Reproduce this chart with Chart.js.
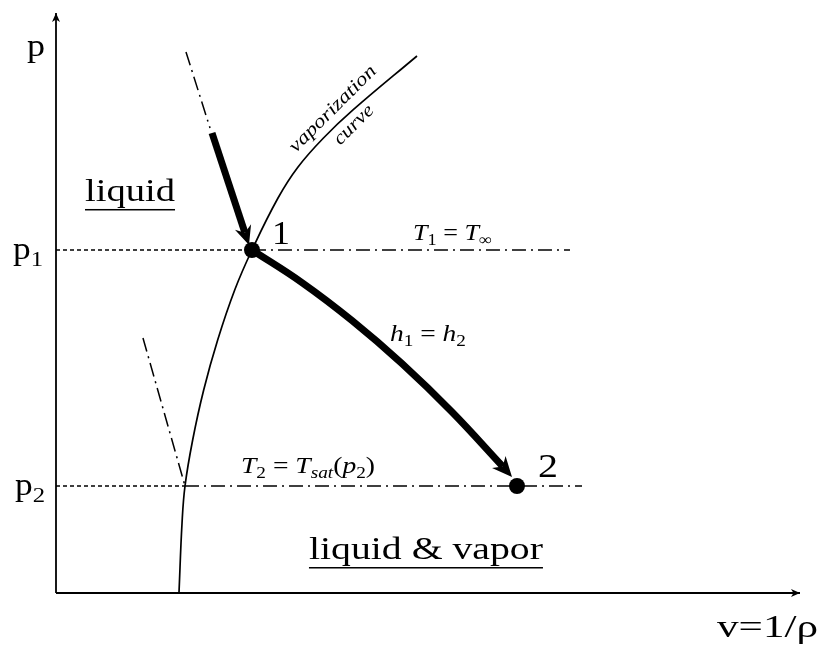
<!DOCTYPE html>
<html>
<head>
<meta charset="utf-8">
<script src="https://cdn.jsdelivr.net/npm/chart.js@4.4.1/dist/chart.umd.min.js"></script>
<style>
  html, body { margin: 0; padding: 0; background: #fff; }
  canvas { display: block; }
</style>
</head>
<body>
<canvas id="pv" width="824" height="646"></canvas>
<script>
// ---- p–v diagram data (arbitrary units: v along x, p along y) ----
const AXIS_MAX = 100;

// state points 1 and 2
const stateNames = ['1', '2'];
const stateV = [26.34, 61.96];
const stateP = [59.14, 18.45];

// vaporization (saturation) curve
const vapV = [16.53, 16.94, 17.34, 18.37, 19.85, 21.73, 24.02, 26.34, 29.84, 32.53, 35.95, 39.92, 48.52];
const vapP = [0.00, 12.07, 18.45, 26.38, 35.00, 43.62, 52.24, 59.14, 68.10, 73.45, 78.45, 83.28, 92.59];

// isenthalpic throttling path 1 -> 2 (h1 = h2), ends at the arrowhead notch
const throttleV = [26.34, 33.06, 39.78, 46.51, 53.23, 60.05];
const throttleP = [59.14, 53.52, 46.98, 39.55, 31.21, 21.81];
const throttleTip = [61.29, 20.00];

// liquid isotherm reaching state 1: dash-dot part, then the thick approach arrow
const isoT1V = [17.47, 20.70];
const isoT1P = [93.28, 80.17];
const approachV = [20.97, 25.39];
const approachP = [79.31, 62.12];
const approachTip = [25.94, 60.00];

// liquid isotherm T2 meeting the saturation curve at p2
const isoT2V = [11.69, 17.34];
const isoT2P = [43.97, stateP[1]];

// isobar extents
const isobar1V = [0, stateV[0], 69.09];
const isobar2V = [0, 17.34, 70.70];

const pts = (xs, ys) => xs.map((x, i) => ({ x, y: ys[i] }));
const flat = (xs, y) => xs.map(x => ({ x, y }));

const INK = '#000';
const DASH = [4, 3];
const DASHDOT = [14, 5, 2, 5];

function lineSet(data, extra) {
  return Object.assign({
    data, showLine: true, borderColor: INK, backgroundColor: INK,
    borderWidth: 1.6, pointRadius: 0, tension: 0, clip: false, fill: false
  }, extra || {});
}

const datasets = [
  // state points (first = drawn on top)
  { data: pts(stateV, stateP), showLine: false, pointRadius: 8, pointHoverRadius: 8,
    pointBackgroundColor: INK, pointBorderColor: INK, pointBorderWidth: 0, clip: false },
  // axes
  lineSet([{ x: 0, y: 0 }, { x: AXIS_MAX, y: 0 }], { borderWidth: 1.8, arrowTip: [AXIS_MAX, 0], arrowSize: [9, 4, 6.5] }),
  lineSet([{ x: 0, y: 0 }, { x: 0, y: AXIS_MAX }], { borderWidth: 1.8, arrowTip: [0, AXIS_MAX], arrowSize: [9, 4, 6.5] }),
  // saturation curve
  lineSet(pts(vapV, vapP), { borderWidth: 1.7, tension: 0.4, borderJoinStyle: 'round' }),
  // isobars p1, p2
  lineSet(flat(isobar1V.slice(0, 2), stateP[0]), { borderWidth: 1.5, borderDash: DASH }),
  lineSet(flat(isobar1V.slice(1), stateP[0]), { borderWidth: 1.5, borderDash: DASHDOT }),
  lineSet(flat(isobar2V.slice(0, 2), stateP[1]), { borderWidth: 1.5, borderDash: DASH }),
  lineSet(flat(isobar2V.slice(1), stateP[1]), { borderWidth: 1.5, borderDash: DASHDOT }),
  // isotherms in the liquid region
  lineSet(pts(isoT1V, isoT1P), { borderWidth: 1.5, borderDash: DASHDOT }),
  lineSet(pts(isoT2V, isoT2P), { borderWidth: 1.5, borderDash: DASHDOT }),
  // thick process arrows
  lineSet(pts(approachV, approachP), { borderWidth: 7, arrowTip: approachTip, arrowSize: [19, 8.5, 13] }),
  lineSet(pts(throttleV, throttleP), { borderWidth: 7, tension: 0.4, borderJoinStyle: 'round', arrowTip: throttleTip, arrowSize: [20, 9, 14] })
];

// ---- text ----
const SERIF = '"Liberation Serif", "Times New Roman", serif';

// runs: [text, style]; style letters: i = italic, s = subscript
const labels = [
  { runs: [['p', '']], x: -1.48, y: 92.59, size: 31, align: 'right', width: 18 },
  { runs: [['p', ''], ['1', 's']], x: -1.75, y: 57.6, size: 31, align: 'right', width: 30 },
  { runs: [['p', ''], ['2', 's']], x: -1.48, y: 16.9, size: 31, align: 'right', width: 30 },
  { runs: [['liquid', '']], x: 3.90, y: 67.59, size: 31, width: 90, underline: 8 },
  { runs: [['liquid & vapor', '']], x: 34.0, y: 5.86, size: 31, width: 234, underline: 8 },
  { runs: [['1', '']], x: 29.03, y: 60.17, size: 33, width: 18 },
  { runs: [['2', '']], x: 64.78, y: 20.0, size: 33, width: 20 },
  { runs: [['v=1/ρ', '']], x: 88.84, y: -7.59, size: 31, width: 101 },
  { runs: [['T', 'i'], ['1', 's'], [' = ', ''], ['T', 'i'], ['∞', 's']], x: 47.98, y: 60.86, size: 23, width: 79 },
  { runs: [['h', 'i'], ['1', 's'], [' = ', ''], ['h', 'i'], ['2', 's']], x: 44.89, y: 43.45, size: 23, width: 76 },
  { runs: [['T', 'i'], ['2', 's'], [' = ', ''], ['T', 'i'], ['sat', 'is'], ['(', ''], ['p', 'i'], ['2', 's'], [')', '']],
    x: 24.87, y: 20.69, size: 23, width: 134 },
  { runs: [['vaporization', 'i']], x: 37.23, y: 83.45, size: 19, width: 115, align: 'center', middle: true, angle: -Math.PI / 4 },
  { runs: [['curve', 'i']], x: 40.05, y: 80.69, size: 19, width: 49, align: 'center', middle: true, angle: -Math.PI / 4 }
];

function drawRuns(ctx, lab, px, py) {
  const pieces = lab.runs.map(([t, st]) => {
    const sub = st.includes('s'), it = st.includes('i');
    const fs = sub ? lab.size * 0.7 : lab.size;
    const font = (it ? 'italic ' : '') + fs.toFixed(1) + 'px ' + SERIF;
    ctx.font = font;
    return { t, font, dy: sub ? lab.size * 0.22 : 0, w: ctx.measureText(t).width };
  });
  const natural = pieces.reduce((a, p) => a + p.w, 0);
  const sx = lab.width ? lab.width / natural : 1;
  ctx.save();
  ctx.translate(px, py);
  if (lab.angle) ctx.rotate(lab.angle);
  ctx.scale(sx, 1);
  let x = lab.align === 'center' ? -natural / 2 : lab.align === 'right' ? -natural : 0;
  const x0 = x;
  ctx.fillStyle = INK;
  ctx.textAlign = 'left';
  ctx.textBaseline = lab.middle ? 'middle' : 'alphabetic';
  for (const p of pieces) {
    ctx.font = p.font;
    ctx.fillText(p.t, x, p.dy);
    x += p.w;
  }
  if (lab.underline) ctx.fillRect(x0, lab.underline, natural, 1.5);
  ctx.restore();
}

const diagramPlugin = {
  id: 'diagram',
  afterDatasetsDraw(chart) {
    const ctx = chart.ctx, xs = chart.scales.x, ys = chart.scales.y;
    chart.data.datasets.forEach((ds, i) => {
      if (!ds.arrowTip) return;
      const meta = chart.getDatasetMeta(i);
      const tx = xs.getPixelForValue(ds.arrowTip[0]);
      const ty = ys.getPixelForValue(ds.arrowTip[1]);
      const k = meta.data.length - 1;
      let b = meta.data[k];
      if (Math.hypot(b.x - tx, b.y - ty) < 0.5) b = meta.data[k - 1];
      let dx = tx - b.x, dy = ty - b.y;
      const len = Math.hypot(dx, dy);
      dx /= len; dy /= len;
      const nx = -dy, ny = dx;
      const [L, W, N] = ds.arrowSize;
      ctx.save();
      ctx.fillStyle = INK;
      ctx.beginPath();
      ctx.moveTo(tx, ty);
      ctx.lineTo(tx - L * dx + W * nx, ty - L * dy + W * ny);
      ctx.lineTo(tx - N * dx, ty - N * dy);
      ctx.lineTo(tx - L * dx - W * nx, ty - L * dy - W * ny);
      ctx.closePath();
      ctx.fill();
      ctx.restore();
    });
  },
  afterDraw(chart) {
    const ctx = chart.ctx, xs = chart.scales.x, ys = chart.scales.y;
    labels.forEach(lab => drawRuns(ctx, lab, xs.getPixelForValue(lab.x), ys.getPixelForValue(lab.y)));
  }
};

function build() {
  new Chart(document.getElementById('pv'), {
    type: 'scatter',
    data: { datasets },
    options: {
      responsive: false,
      animation: false,
      devicePixelRatio: 1,
      events: [],
      layout: { padding: { left: 56, right: 24, top: 13, bottom: 53 } },
      plugins: { legend: { display: false }, tooltip: { enabled: false } },
      scales: {
        x: { type: 'linear', min: 0, max: AXIS_MAX, display: false },
        y: { type: 'linear', min: 0, max: AXIS_MAX, display: false }
      }
    },
    plugins: [diagramPlugin]
  });
}

// make sure the serif faces are ready before the canvas text is drawn
Promise.all([
  document.fonts.load('31px "Liberation Serif"', 'liquid p1'),
  document.fonts.load('italic 23px "Liberation Serif"', 'Th')
]).then(build, build);
</script>
</body>
</html>
